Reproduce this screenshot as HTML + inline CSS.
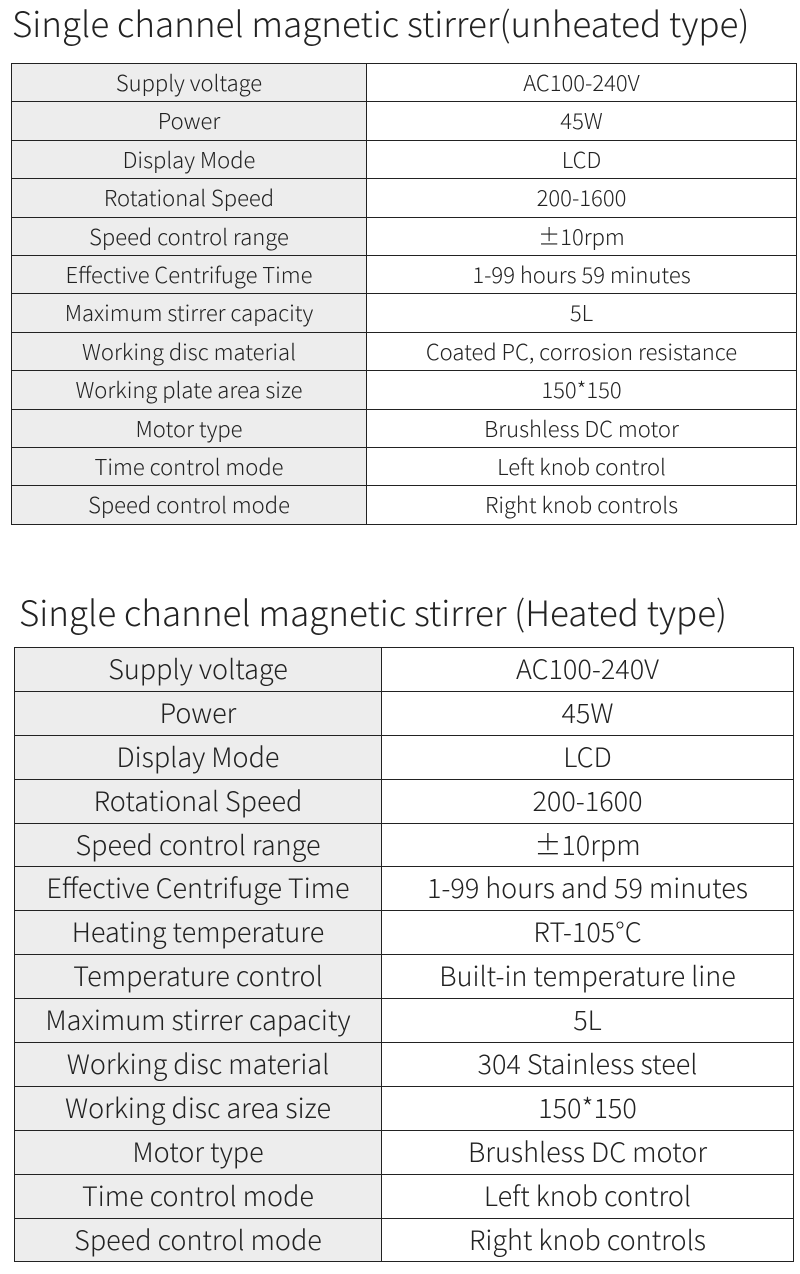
<!DOCTYPE html>
<html><head><meta charset="utf-8"><style>
body{margin:0;width:800px;height:1274px;background:#fff;position:relative;overflow:hidden;font-family:"Noto Sans CJK SC","Liberation Sans",sans-serif;color:#222;font-weight:300}
.t{position:absolute;white-space:nowrap;font-size:35px;line-height:1}
table{position:absolute;border-collapse:collapse;table-layout:fixed}
td{border:1.5px solid #222;text-align:center;padding:0;white-space:nowrap;line-height:1.2}
td.l{background:#ededed}
#a{left:11px;top:63px;width:786px;font-size:22px}
#a td{height:36.4px;padding-bottom:1px}
#b{left:14px;top:647px;width:780px;font-size:27px}
#b td{height:40.3px;padding-bottom:2.6px}
</style></head><body>
<div class="t" style="left:12px;top:5px">Single channel magnetic stirrer(unheated type)</div>
<table id="a"><colgroup><col style="width:355px"><col></colgroup>
<tr><td class="l">Supply voltage</td><td>AC100-240V</td></tr>
<tr><td class="l">Power</td><td>45W</td></tr>
<tr><td class="l">Display Mode</td><td>LCD</td></tr>
<tr><td class="l">Rotational Speed</td><td>200-1600</td></tr>
<tr><td class="l">Speed control range</td><td>±10rpm</td></tr>
<tr><td class="l">Effective Centrifuge Time</td><td>1-99 hours 59 minutes</td></tr>
<tr><td class="l">Maximum stirrer capacity</td><td>5L</td></tr>
<tr><td class="l">Working disc material</td><td>Coated PC, corrosion resistance</td></tr>
<tr><td class="l">Working plate area size</td><td>150*150</td></tr>
<tr><td class="l">Motor type</td><td>Brushless DC motor</td></tr>
<tr><td class="l">Time control mode</td><td>Left knob control</td></tr>
<tr><td class="l">Speed control mode</td><td>Right knob controls</td></tr>
</table>
<div class="t" style="left:19px;top:594px">Single channel magnetic stirrer (Heated type)</div>
<table id="b"><colgroup><col style="width:367px"><col></colgroup>
<tr><td class="l">Supply voltage</td><td>AC100-240V</td></tr>
<tr><td class="l">Power</td><td>45W</td></tr>
<tr><td class="l">Display Mode</td><td>LCD</td></tr>
<tr><td class="l">Rotational Speed</td><td>200-1600</td></tr>
<tr><td class="l">Speed control range</td><td>±10rpm</td></tr>
<tr><td class="l">Effective Centrifuge Time</td><td>1-99 hours and 59 minutes</td></tr>
<tr><td class="l">Heating temperature</td><td>RT-105°C</td></tr>
<tr><td class="l">Temperature control</td><td>Built-in temperature line</td></tr>
<tr><td class="l">Maximum stirrer capacity</td><td>5L</td></tr>
<tr><td class="l">Working disc material</td><td>304 Stainless steel</td></tr>
<tr><td class="l">Working disc area size</td><td>150*150</td></tr>
<tr><td class="l">Motor type</td><td>Brushless DC motor</td></tr>
<tr><td class="l">Time control mode</td><td>Left knob control</td></tr>
<tr><td class="l">Speed control mode</td><td>Right knob controls</td></tr>
</table>
</body></html>
